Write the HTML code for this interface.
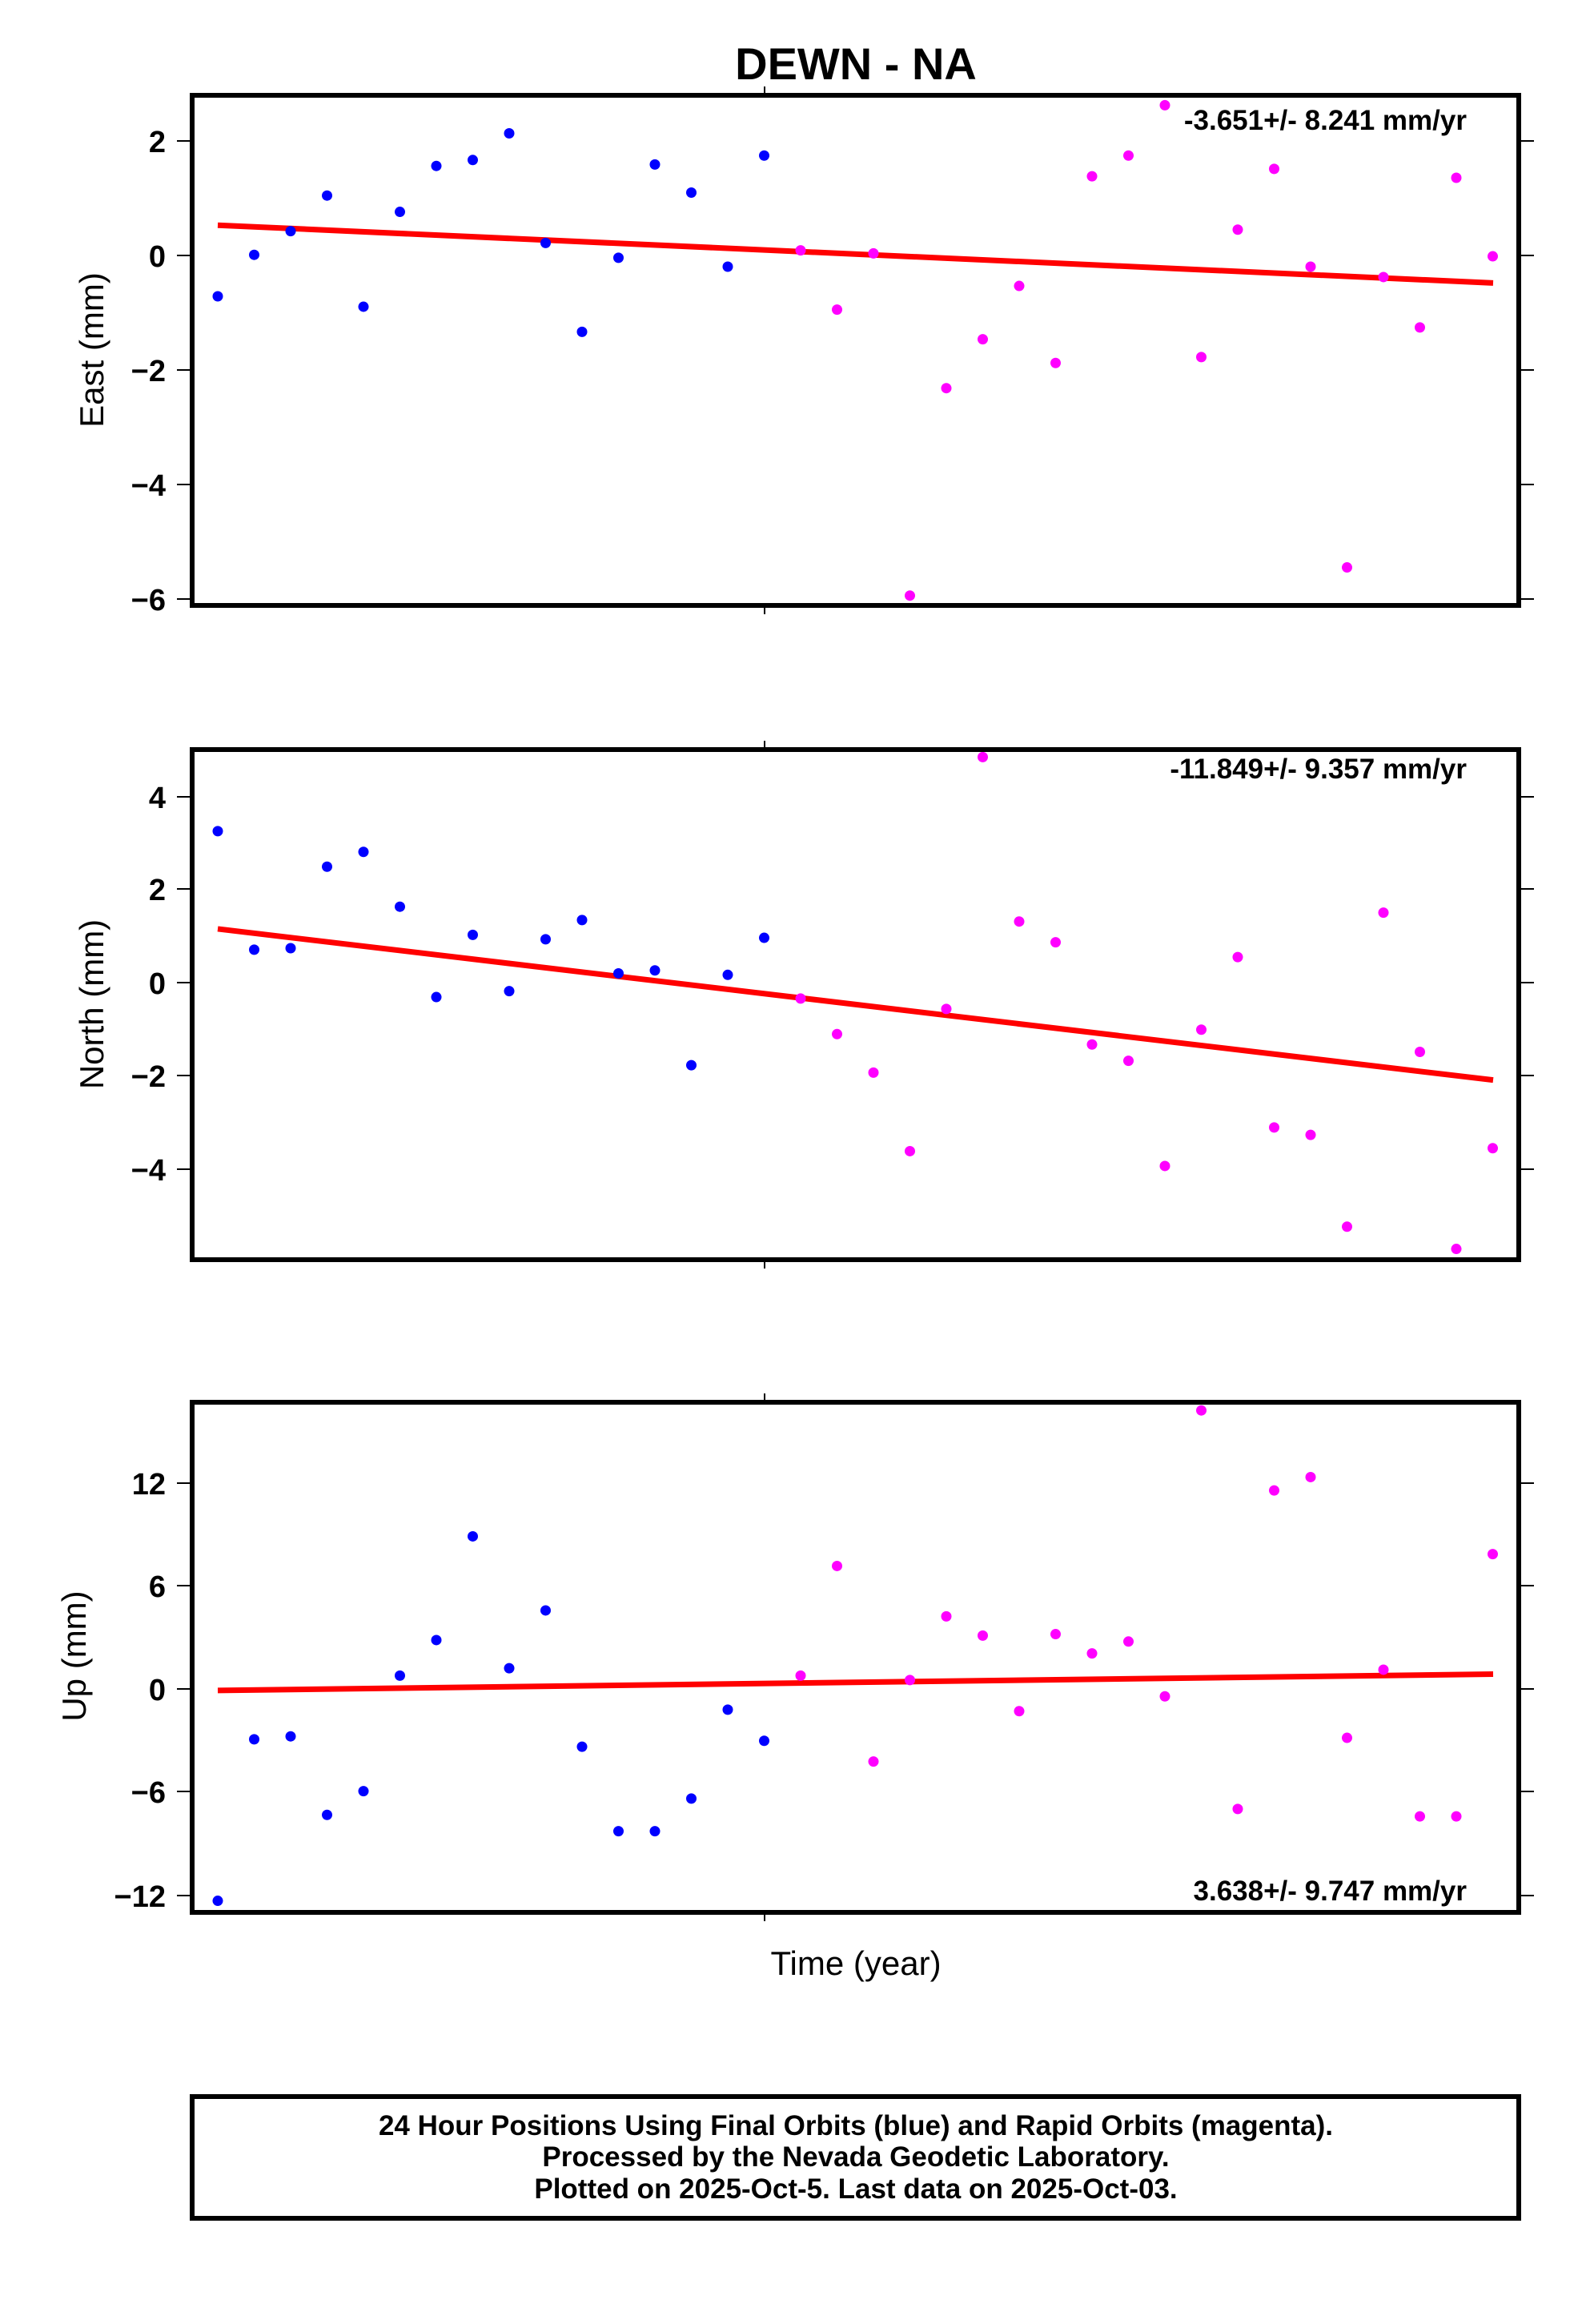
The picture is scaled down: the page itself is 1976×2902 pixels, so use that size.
<!DOCTYPE html>
<html><head><meta charset="utf-8"><style>html,body{margin:0;padding:0;background:#fff}svg{display:block}</style></head>
<body>
<svg id="s" width="1976" height="2902" viewBox="0 0 1976 2902" xmlns="http://www.w3.org/2000/svg" font-family="Liberation Sans, sans-serif">
<rect width="1976" height="2902" fill="#fff"/>
<text x="1069" y="99" font-size="56" font-weight="bold" text-anchor="middle">DEWN - NA</text>
<g id="pts"></g>
<g fill="none" stroke="#000" stroke-width="6">
<rect x="240" y="119" width="1657" height="637"/>
<rect x="240" y="936" width="1657" height="637"/>
<rect x="240" y="1751" width="1657" height="637"/>
<rect x="240" y="2618" width="1657" height="152"/>
</g>
<g stroke="#000" stroke-width="2">
<line x1="955" y1="108" x2="955" y2="119"/><line x1="955" y1="756" x2="955" y2="767"/>
<line x1="955" y1="925" x2="955" y2="936"/><line x1="955" y1="1573" x2="955" y2="1584"/>
<line x1="955" y1="1740" x2="955" y2="1751"/><line x1="955" y1="2388" x2="955" y2="2399"/>
</g>
<g id="ticks" stroke="#000" stroke-width="2"></g>
<g font-size="38" font-weight="bold" text-anchor="end">
<text x="207" y="190">2</text><text x="207" y="333">0</text><text x="207" y="476">−2</text><text x="207" y="619">−4</text><text x="207" y="762">−6</text>
<text x="207" y="1009">4</text><text x="207" y="1124">2</text><text x="207" y="1241">0</text><text x="207" y="1357">−2</text><text x="207" y="1474">−4</text>
<text x="207" y="1866">12</text><text x="207" y="1994">6</text><text x="207" y="2123">0</text><text x="207" y="2251">−6</text><text x="207" y="2381">−12</text>
</g>
<g font-size="35" font-weight="bold" text-anchor="end">
<text x="1832" y="162">-3.651+/- 8.241 mm/yr</text>
<text x="1832" y="972">-11.849+/- 9.357 mm/yr</text>
<text x="1832" y="2373">3.638+/- 9.747 mm/yr</text>
</g>
<g font-size="42">
<text transform="translate(129,437) rotate(-90)" text-anchor="middle">East (mm)</text>
<text transform="translate(129,1254) rotate(-90)" text-anchor="middle">North (mm)</text>
<text transform="translate(107,2068) rotate(-90)" text-anchor="middle">Up (mm)</text>
<text x="1069" y="2466" text-anchor="middle">Time (year)</text>
</g>
<g font-size="35" font-weight="bold" text-anchor="middle">
<text x="1069" y="2666">24 Hour Positions Using Final Orbits (blue) and Rapid Orbits (magenta).</text>
<text x="1069" y="2705">Processed by the Nevada Geodetic Laboratory.</text>
<text x="1069" y="2745">Plotted on 2025-Oct-5. Last data on 2025-Oct-03.</text>
</g>
</svg>
<script>
var S=1.85,ns="http://www.w3.org/2000/svg";
function el(t,a,p){var e=document.createElementNS(ns,t);for(var k in a)e.setAttribute(k,a[k]);p.appendChild(e);return e;}
var g=document.getElementById('pts'),tk=document.getElementById('ticks');
var E=[200,172,156,132,207,143,112,108,90,164,224,174,111,130,180,105,169,209,171,402,262,229,193,245,119,105,71,241,155,114,180,383,187,221,120,173];
var N=[561,641,640,585,575,612,673,631,669,634,621,657,655,719,658,633,674,698,724,777,681,511,622,636,705,716,787,695,646,761,766,828,616,710,843,775];
var U=[1283,1174,1172,1225,1209,1131,1107,1037,1126,1087,1179,1236,1236,1214,1154,1175,1131,1057,1189,1134,1091,1104,1155,1103,1116,1108,1145,952,1221,1006,997,1173,1127,1226,1226,1049];
var trends=[[152,191],[627,729],[1141,1130]];
[E,N,U].forEach(function(a,j){
 el('line',{x1:272,y1:trends[j][0]*S,x2:1865,y2:trends[j][1]*S,stroke:'#f00','stroke-width':7},g);
 a.forEach(function(v,i){el('circle',{cx:272+i*45.5,cy:v*S,r:6.5,fill:i<16?'#00f':'#f0f'},g);});
});
[176,319,462,605,748, 995,1110,1227,1343,1460, 1852,1980,2109,2237,2367].forEach(function(y){
 el('line',{x1:221,y1:y,x2:237,y2:y},tk);el('line',{x1:1900,y1:y,x2:1916,y2:y},tk);
});
</script>
</body></html>
